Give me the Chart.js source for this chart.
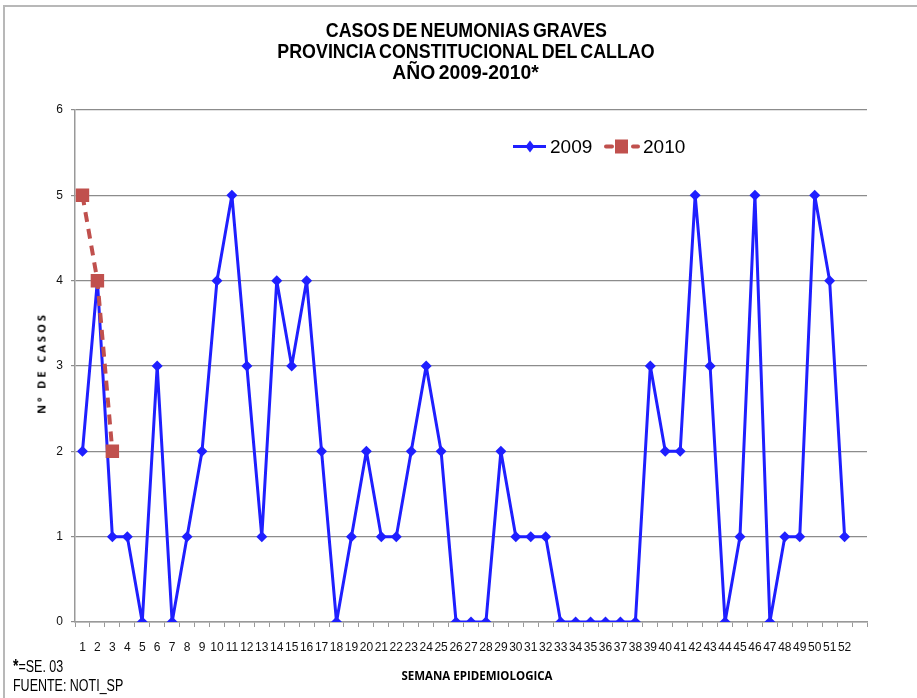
<!DOCTYPE html>
<html>
<head>
<meta charset="utf-8">
<script src="https://cdn.jsdelivr.net/npm/chart.js@4"></script>
<style>
  html, body { margin: 0; padding: 0; background: #fff; }
  #wrap { position: relative; width: 917px; height: 698px; overflow: hidden; font-family: 'Liberation Sans', Arial, sans-serif; }
  #frame { position: absolute; left: 3px; top: 5px; width: 920px; height: 720px; border-left: 2px solid #b8b8b8; border-top: 2px solid #b8b8b8; }
  #title { position: absolute; left: 0; width: 932px; top: 19px; text-align: center;
           font-family: 'Liberation Sans', Arial, sans-serif; font-weight: bold; font-size: 21px; line-height: 21px; color: #000; }
  #title span { display: inline-block; transform: scaleX(0.85); word-spacing: -2px; }
  #ytitle { position: absolute; left: 41px; top: 363px; transform: translate(-50%, -50%) rotate(-90deg);
            font-weight: bold; font-size: 11px; letter-spacing: 3px; white-space: nowrap; font-family: 'Open Sans', sans-serif; }
  #xtitle { position: absolute; left: 477px; top: 675px; transform: translate(-50%, -50%);
            font-weight: bold; font-size: 11.5px; white-space: nowrap; font-family: 'Open Sans', sans-serif; }
  .note { position: absolute; left: 13px; font-size: 16px; white-space: nowrap; font-family: 'Liberation Sans', sans-serif;
          transform: scaleX(0.78); transform-origin: left center; }
  canvas { position: absolute; left: 0; top: 0; }
</style>
</head>
<body>
<div id="wrap">
  <div id="frame"></div>
  <canvas id="chart" width="917" height="698"></canvas>
  <div id="title"><span>CASOS DE NEUMONIAS GRAVES</span><br><span>PROVINCIA CONSTITUCIONAL DEL CALLAO</span><br><span style="transform:scaleX(0.92)">AÑO 2009-2010*</span></div>
  <div id="ytitle">Nº DE CASOS</div>
  <div id="xtitle">SEMANA EPIDEMIOLOGICA</div>
  <div class="note" style="top:656px"><b style="font-size:18px">*</b>=SE. 03</div>
  <div class="note" style="top:677px">FUENTE: NOTI_SP</div>
</div>
<script>
/* datos */
const weeks = [];
for (let i = 1; i <= 52; i++) weeks.push(String(i));
weeks.push(''); // categoria vacia al final del eje

const cases2009 = [2,4,1,1,0,3,0,1,2,4,5,3,1,4,3,4,2,0,1,2,1,1,2,3,2,0,0,0,2,1,
                   1,1,0,0,0,0,0,0,3,2,2,5,3,0,1,5,0,1,1,5,4,1];
const cases2010 = [5,4,2];
const yTicks = [0,1,2,3,4,5,6];

const BLUE = '#1f1fff';
const RED = '#c0504d';

// leyenda dibujada dentro del area del grafico
const insideLegend = {
  id: 'insideLegend',
  afterDraw(chart){
    const ctx = chart.ctx;
    const y = 146.5;
    ctx.save();
    ctx.font = '19px "Liberation Sans", Arial, sans-serif';
    ctx.textBaseline = 'middle';
    // 2009
    ctx.strokeStyle = BLUE; ctx.lineWidth = 3;
    ctx.beginPath(); ctx.moveTo(513, y); ctx.lineTo(546, y); ctx.stroke();
    ctx.fillStyle = BLUE;
    ctx.beginPath(); ctx.moveTo(530, y-6); ctx.lineTo(534.5, y); ctx.lineTo(530, y+6); ctx.lineTo(525.5, y); ctx.closePath(); ctx.fill();
    ctx.fillStyle = '#000';
    ctx.fillText('2009', 550, y+1);
    // 2010
    ctx.strokeStyle = RED; ctx.lineWidth = 4; ctx.lineCap = 'round';
    ctx.beginPath(); ctx.moveTo(606, y); ctx.lineTo(612, y); ctx.stroke();
    ctx.beginPath(); ctx.moveTo(633, y); ctx.lineTo(638, y); ctx.stroke();
    ctx.fillStyle = RED;
    ctx.fillRect(615, y-7, 13, 14);
    ctx.fillStyle = '#000';
    ctx.fillText('2010', 643, y+1);
    ctx.restore();
  }
};

new Chart(document.getElementById('chart'), {
  type: 'line',
  data: {
    labels: weeks,
    datasets: [
      {
        label: '2009',
        data: cases2009,
        order: 1,
        borderColor: BLUE,
        backgroundColor: BLUE,
        borderWidth: 3,
        borderJoinStyle: 'round',
        pointStyle: 'rectRot',
        pointRadius: 5.5,
        pointBorderWidth: 0,
        tension: 0
      },
      {
        label: '2010',
        data: cases2010,
        order: 0,
        borderColor: RED,
        backgroundColor: RED,
        borderWidth: 4,
        borderDash: [10, 7],
        pointStyle: 'rect',
        pointRadius: 9.5,
        pointBorderWidth: 0,
        tension: 0
      }
    ]
  },
  options: {
    responsive: false,
    animation: false,
    layout: { padding: { top: 110, right: 50, left: 0, bottom: 0 } },
    plugins: {
      legend: { display: false },
      tooltip: { enabled: false }
    },
    scales: {
      x: {
        offset: true,
        afterFit(s){ s.height = 76; },
        grid: { display: true, drawOnChartArea: false, offset: true, color: '#999', tickLength: 5, tickColor: '#999' },
        border: { color: '#999', width: 1.5 },
        ticks: { autoSkip: false, maxRotation: 0, padding: 13, color: '#111',
                 font: { family: "'Liberation Sans', sans-serif", size: 12 } }
      },
      y: {
        min: 0, max: 6,
        afterFit(s){ s.width = 75; },
        afterBuildTicks(s){ s.ticks = yTicks.map(v => ({ value: v })); },
        grid: { color: '#8c8c8c', lineWidth: 1.2, tickLength: 4 },
        border: { color: '#999', width: 1.5 },
        ticks: { padding: 8, color: '#111',
                 font: { family: "'Liberation Sans', sans-serif", size: 12 } }
      }
    }
  },
  plugins: [insideLegend]
});
</script>
</body>
</html>
